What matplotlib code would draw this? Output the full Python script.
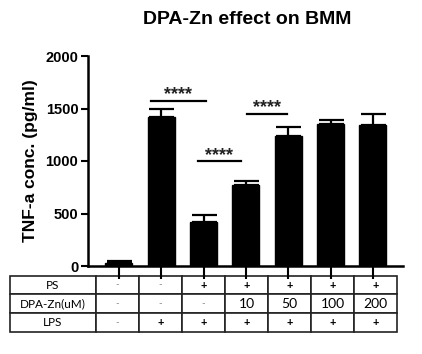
import matplotlib
matplotlib.use("Agg")
import matplotlib.pyplot as plt
import numpy as np

# Data
values = [30, 1420, 420, 770, 1240, 1355, 1345]
errors = [15, 75, 65, 35, 80, 35, 100]
ps = ['-', '-', '+', '+', '+', '+', '+']
dpa = ['-', '-', '-', '10', '50', '100', '200']
lps = ['-', '+', '+', '+', '+', '+', '+']
row_labels = ['PS', 'DPA-Zn(uM)', 'LPS']
yticks = [0, 500, 1000, 1500, 2000]
# significance brackets: (x_start, x_end, y)
sig = [(0.75, 2.05, 1575), (3.03, 3.97, 1447), (1.87, 2.88, 997)]
sig_label = '****'

plt.rcParams['font.family'] = ['Liberation Sans', 'DejaVu Sans']

fig = plt.figure(figsize=(4.22, 3.54), dpi=100)
ax = fig.add_axes([88/422, 1-266/354, 315/422, 210/354])

x = np.arange(len(values))
ax.bar(x, values, width=0.64, color='black', edgecolor='black', zorder=2)
ax.errorbar(x, values, yerr=[np.zeros(len(errors)), errors], fmt='none',
            ecolor='black', elinewidth=1.6, capsize=9, capthick=1.6, zorder=3)

for x1, x2, yy in sig:
    ax.plot([x1, x2], [yy, yy], color='black', lw=1.6, clip_on=False)
    ax.text((x1 + x2) / 2, yy + 15, sig_label, ha='center', va='baseline',
            fontsize=13, fontweight='bold', color='#222222')

ax.set_xlim(-0.73, 6.71)
ax.set_ylim(0, 2000)
ax.set_yticks(yticks)
ax.set_yticklabels([str(v) for v in yticks], fontsize=10.5, fontweight='bold')
ax.set_xticks(x)
ax.set_xticklabels([])
ax.tick_params(axis='y', length=5, width=1.5, pad=2)
ax.tick_params(axis='x', length=9, width=1.5, direction='out')
for s in ['top', 'right']:
    ax.spines[s].set_visible(False)
for s in ['left', 'bottom']:
    ax.spines[s].set_linewidth(1.8)

ax.set_ylabel('TNF-a conc. (pg/ml)', fontsize=12.5, fontweight='bold', labelpad=5)
fig.text(247/422, 1-20/354, 'DPA-Zn effect on BMM', ha='center', va='center',
         fontsize=14, fontweight='bold')

# table
cell_text = [[row_labels[0]] + ps, [row_labels[1]] + dpa, [row_labels[2]] + lps]
col_w0 = 86 / 315
col_w = 43 / 315
tab = ax.table(cellText=cell_text, cellLoc='center',
               colWidths=[col_w0] + [col_w] * 7,
               bbox=[-78/315, -(331.7-266)/210, (397-10)/315, (331.7-275.7)/210])
tab.auto_set_font_size(False)
for (r, c), cell in tab.get_celld().items():
    cell.set_linewidth(1.2)
    cell.set_edgecolor('#222222')
    t = cell.get_text()
    t.set_fontfamily(['Lato', 'DejaVu Sans'])
    txt = t.get_text()
    if txt == '-':
        t.set_color('#888888')
        t.set_fontsize(7)
    elif txt == '+':
        t.set_fontsize(8)
        t.set_fontweight('bold')
    elif c == 0:
        t.set_fontsize(8.5)
    else:
        t.set_fontsize(10)

fig.savefig('out.png', dpi=100)
